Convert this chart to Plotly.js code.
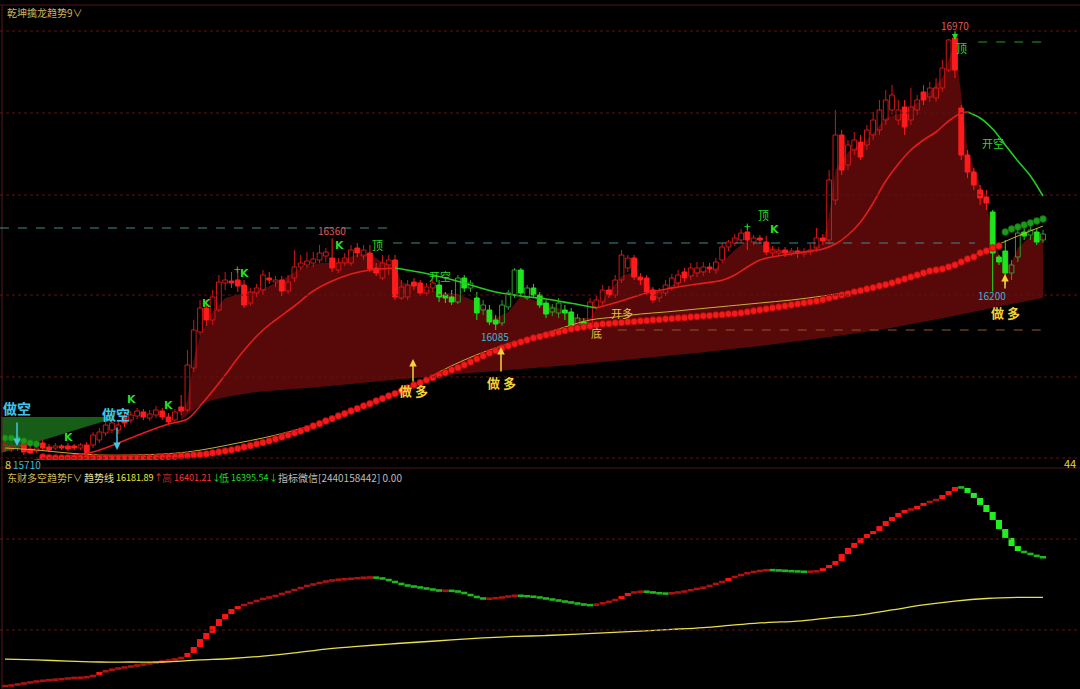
<!DOCTYPE html>
<html><head><meta charset="utf-8">
<script src="https://cdn.plot.ly/plotly-3.0.1.min.js"></script>
<style>html,body{margin:0;padding:0;background:#000;}#chart{width:1080px;height:689px;}</style>
</head><body><div id="chart"></div>
<script>
// ---------- candle data (15-minute bars) ----------
const openP = [15728,15725,15731,15746,15728,15722,15746,15734,15731,15737,15737,15737,15731,15740,15740,15755,15776,15785,15785,15824,15815,15827,15839,15821,15830,15842,15824,15815,15854,15845,15971,16079,16151,16115,16145,16226,16232,16235,16220,16166,16196,16205,16241,16229,16235,16202,16241,16274,16280,16286,16295,16307,16301,16265,16286,16286,16331,16307,16316,16271,16241,16280,16295,16181,16184,16229,16226,16196,16211,16220,16190,16184,16169,16241,16211,16181,16145,16145,16115,16106,16154,16190,16265,16181,16211,16190,16166,16139,16136,16145,16139,16091,16109,16106,16154,16169,16205,16190,16235,16271,16301,16244,16241,16205,16181,16196,16211,16226,16259,16247,16256,16259,16274,16265,16295,16334,16346,16355,16379,16349,16361,16349,16316,16316,16325,16316,16322,16313,16319,16331,16361,16355,16475,16670,16580,16625,16649,16640,16670,16685,16715,16745,16715,16754,16715,16745,16799,16784,16781,16811,16865,16961,16751,16610,16559,16505,16484,16439,16304,16322,16256,16304,16379,16370,16379,16355];
const highP = [15755,15746,15752,15755,15737,15737,15755,15743,15746,15743,15746,15743,15746,15749,15779,15791,15815,15821,15815,15836,15842,15851,15848,15845,15857,15851,15836,15848,15890,16025,16115,16175,16175,16205,16250,16259,16259,16265,16235,16211,16223,16265,16259,16247,16247,16250,16325,16310,16319,16319,16340,16331,16360,16301,16316,16340,16346,16340,16340,16286,16310,16310,16310,16235,16235,16241,16235,16226,16250,16235,16199,16205,16250,16250,16235,16199,16175,16160,16130,16175,16205,16271,16271,16220,16223,16199,16175,16163,16181,16160,16151,16133,16121,16181,16187,16220,16217,16250,16325,16310,16310,16256,16250,16214,16211,16235,16253,16265,16271,16286,16289,16289,16286,16301,16346,16355,16373,16388,16400,16370,16370,16367,16337,16334,16334,16331,16334,16331,16343,16391,16373,16565,16745,16685,16655,16679,16670,16700,16739,16775,16805,16820,16775,16775,16811,16790,16820,16829,16841,16895,16958,16970,16760,16625,16571,16520,16505,16445,16310,16355,16295,16394,16391,16397,16391,16385];
const lowP = [15719,15719,15722,15710,15713,15716,15725,15719,15725,15725,15722,15725,15725,15713,15731,15746,15767,15776,15773,15794,15806,15818,15815,15812,15821,15815,15800,15806,15830,15839,15959,16070,16097,16100,16139,16205,16211,16199,16151,16157,16184,16190,16223,16214,16187,16193,16229,16265,16271,16274,16286,16289,16259,16256,16277,16277,16304,16295,16259,16247,16235,16250,16175,16175,16175,16205,16187,16187,16199,16169,16166,16160,16163,16199,16199,16115,16130,16100,16085,16097,16145,16181,16187,16175,16181,16151,16121,16127,16121,16115,16088,16088,16088,16097,16145,16160,16181,16181,16226,16259,16235,16220,16190,16166,16169,16187,16202,16217,16229,16235,16244,16247,16256,16253,16286,16322,16337,16346,16325,16340,16343,16310,16307,16307,16304,16307,16301,16304,16310,16319,16340,16340,16460,16550,16565,16610,16595,16625,16655,16670,16700,16730,16700,16670,16700,16730,16760,16769,16769,16799,16859,16841,16595,16541,16505,16460,16445,16200,16280,16220,16235,16289,16355,16355,16340,16346];
const closeP = [15740,15737,15740,15719,15716,15731,15731,15725,15737,15731,15728,15731,15740,15716,15770,15779,15800,15806,15800,15806,15830,15842,15824,15833,15845,15824,15809,15839,15842,15980,16085,16151,16115,16184,16229,16235,16226,16217,16160,16199,16211,16250,16235,16235,16202,16229,16274,16286,16292,16298,16316,16319,16271,16286,16301,16325,16316,16325,16268,16256,16286,16295,16184,16214,16220,16217,16196,16214,16226,16184,16181,16169,16241,16211,16226,16136,16160,16109,16103,16160,16196,16265,16196,16211,16190,16160,16133,16151,16166,16136,16091,16121,16094,16169,16175,16205,16190,16235,16310,16301,16244,16235,16199,16175,16199,16220,16241,16250,16241,16271,16271,16274,16268,16289,16334,16349,16361,16376,16355,16361,16355,16319,16325,16322,16316,16322,16316,16319,16325,16361,16352,16535,16670,16565,16640,16655,16604,16685,16715,16745,16775,16790,16745,16694,16754,16775,16775,16811,16811,16871,16955,16865,16610,16559,16520,16481,16466,16316,16289,16256,16280,16376,16367,16385,16349,16373];
// index ranges where the indicator paints the bars green
const greenZones = [[69,92],[157,165]];

// ---------- main-panel indicator lines ----------
const maIdx = [1,5,10,14,18,22,26,29,31,33,35,37,39,41,43,46,49,52,55,58,62,66,70,74,78,82,86,90,94,98,102,106,110,114,116,118,120,122,126,130,132,134,136,138,140,142,144,146,148,150,152,153,155,157,159,161,163,165];
const maVal = [15671,15695,15707,15719,15746,15776,15803,15818,15857,15902,15950,16001,16046,16085,16115,16157,16202,16232,16253,16265,16271,16258,16241,16220,16199,16187,16178,16165,16151,16172,16196,16211,16223,16234,16250,16274,16295,16304,16316,16328,16343,16370,16409,16466,16532,16583,16625,16655,16679,16712,16736,16739,16721,16688,16640,16592,16547,16487];
const maGreenRanges = [[62,94],[153,165]];
const yellowIdx = [0,5,10,15,20,25,29,33,37,41,45,49,53,57,61,65,69,73,77,81,85,89,93,97,101,105,110,115,120,125,130,135,140,145,149,153,157,161,165];
const yellowVal = [15731,15725,15716,15710,15710,15713,15719,15731,15746,15761,15779,15800,15827,15857,15890,15917,15959,15995,16025,16049,16070,16094,16115,16124,16133,16139,16148,16157,16166,16175,16187,16202,16220,16244,16271,16298,16334,16367,16397];
const sarVal = [15761,15761,15758,15752,15746,15743,
15704,15702,15701,15701,15701,15701,15701,15701,15701,15701,
15701,15701,15701,15701,15701,15701,15701,15701,15702,15704,
15704,15705,15707,15708,15710,15711,15713,15716,15719,15722,
15725,15729,15734,15738,15743,15747,15752,15758,15764,15770,
15776,15782,15789,15797,15804,15812,15819,15827,15834,15842,
15849,15857,15864,15872,15879,15887,15894,15902,15911,15920,
15927,15935,15942,15950,15957,15965,15972,15980,15989,15998,
16007,16016,16023,16031,16037,16043,16049,16055,16061,16065,
16070,16074,16079,16083,16088,16091,16094,16097,16100,16103,
16104,16106,16107,16109,16110,16112,16113,16115,16116,16118,
16119,16121,16122,16124,16125,16127,16128,16130,16131,16133,
16134,16136,16139,16142,16145,16148,16151,16154,16157,16160,
16163,16166,16169,16172,16176,16181,16185,16190,16194,16199,
16203,16208,16212,16217,16221,16226,16232,16238,16244,16250,
16256,16262,16265,16268,16274,16280,16289,16298,16304,16316,
16322,16331,16337,16379,16388,16394,16400,16406,16412,16418];
const sarGreenRanges = [[0,5],[159,165]];
// shaded band
const shadeTopIdx = [28,29,30,31,33,35,38,41,44,47,50,53,56,58,60,62,63,66,69,72,75,78,80,82,85,88,91,93,95,98,100,102,104,107,110,113,116,118,121,124,128,130,131,132,134,137,140,143,146,149,151,152,153,155,156,157,159,160,161,163,165];
const shadeTop = [15830,15875,15995,16070,16139,16181,16196,16208,16235,16271,16286,16289,16313,16313,16289,16277,16229,16211,16199,16193,16169,16121,16139,16187,16169,16151,16121,16121,16175,16247,16259,16220,16199,16229,16259,16271,16325,16355,16337,16322,16325,16349,16430,16565,16619,16655,16721,16739,16781,16841,16949,16790,16625,16520,16481,16355,16271,16289,16331,16367,16367];
const shadeBotIdx = [28,29,30,31,33,36,40,50,60,70,80,90,100,110,120,130,140,150,160,165];
const shadeBot = [15815,15830,15845,15860,15875,15887,15899,15914,15932,15950,15965,15980,15998,16016,16037,16061,16088,16124,16163,16181];
const cloudIdx = [0,18];
const cloudTop = [15824,15824];
const cloudBot = [15716,15821];
// reference price levels
const levels = {hiA:16391, hiB:16346, top:16949, low:16085};

// ---------- lower panel: 东财多空趋势F ----------
const trendStep = [15703,15709,15714,15720,15725,15730,15733,15736,15739,15741,
15747,15747,15749,15752,15763,15779,15787,15795,15801,15806,
15811,15817,15822,15828,15833,15838,15844,15849,15860,15882,
15914,15957,15990,16027,16065,16092,16119,16135,16146,16157,
16168,16179,16184,16195,16206,16216,16227,16238,16249,16254,
16265,16270,16276,16279,16281,16284,16287,16289,16290,16287,
16281,16270,16260,16249,16243,16238,16233,16227,16222,16216,
16219,16216,16211,16200,16189,16179,16173,16176,16179,16184,
16189,16192,16189,16187,16184,16179,16173,16168,16162,16157,
16152,16146,16141,16139,16146,16154,16162,16173,16189,16206,
16211,16214,16211,16206,16203,16202,16206,16211,16216,16225,
16230,16238,16249,16260,16270,16287,16297,16308,16316,16322,
16327,16330,16328,16327,16324,16323,16321,16320,16321,16324,
16340,16357,16378,16416,16449,16476,16503,16524,16540,16567,
16594,16616,16638,16654,16659,16676,16692,16702,16713,16735,
16756,16778,16773,16746,16719,16681,16643,16600,16551,16503,
16459,16432,16422,16411,16401,16396];
const trendLineIdx = [0,5,10,15,20,25,28,31,36,41,46,51,56,61,66,71,76,81,86,91,96,101,106,111,116,121,126,131,136,141,146,151,156,161,165];
const trendLineVal = [15849,15844,15838,15833,15833,15833,15838,15844,15852,15865,15882,15903,15917,15930,15941,15952,15963,15971,15976,15984,15992,16000,16009,16019,16033,16046,16054,16071,16087,16114,16141,16162,16176,16182,16182];

// ---------- build ----------
const W = 1080, Hh = 689;
const N = closeP.length;
const inR = (i, rs) => rs.some(r => i >= r[0] && i <= r[1]);
const MINB = 3;
const groups = {hr:[], hg:[], fr:[], fg:[]};
for (let i = 0; i < N; i++) {
  const up = closeP[i] >= openP[i];
  const g = inR(i, greenZones);
  groups[(up ? 'h' : 'f') + (g ? 'g' : 'r')].push(i);
}
const gStyle = {
  hr:{fill:'rgba(0,0,0,0)', line:'#d01616'},
  hg:{fill:'rgba(0,0,0,0)', line:'#2f9a2f'},
  fr:{fill:'#ff1c1c', line:'#ff1c1c'},
  fg:{fill:'#1ee41e', line:'#1ee41e'}
};
const traces = [];
const none = {width:0, color:'rgba(0,0,0,0)'};
traces.push({type:'scatter', mode:'lines', x:cloudIdx.map(v=>v-0.6), y:cloudBot, line:none, hoverinfo:'skip', xaxis:'x', yaxis:'y'});
traces.push({type:'scatter', mode:'lines', x:cloudIdx.map(v=>v-0.6), y:cloudTop, fill:'tonexty', fillcolor:'#175c17', line:none, hoverinfo:'skip', xaxis:'x', yaxis:'y'});
traces.push({type:'scatter', mode:'lines', x:shadeBotIdx, y:shadeBot, line:none, hoverinfo:'skip', xaxis:'x', yaxis:'y'});
traces.push({type:'scatter', mode:'lines', x:shadeTopIdx, y:shadeTop, fill:'tonexty', fillcolor:'#570909', line:none, hoverinfo:'skip', xaxis:'x', yaxis:'y'});

for (const k of ['hr','hg','fr','fg']) {
  const ids = groups[k];
  const base = [], len = [], wx = [], wy = [];
  for (const i of ids) {
    let lo = Math.min(openP[i], closeP[i]), hi = Math.max(openP[i], closeP[i]);
    if (hi - lo < MINB) { const m = (hi + lo) / 2; lo = m - MINB/2; hi = m + MINB/2; }
    base.push(lo); len.push(hi - lo);
    if (k[0] === 'h') { wx.push(i, i, null, i, i, null); wy.push(lowP[i], lo, null, hi, highP[i], null); }
    else { wx.push(i, i, null); wy.push(lowP[i], highP[i], null); }
  }
  traces.push({type:'bar', x:ids, y:len, base:base, width:0.76, marker:{color:gStyle[k].fill, line:{color:gStyle[k].line, width:1}}, hoverinfo:'skip', xaxis:'x', yaxis:'y3'});
  traces.push({type:'scatter', mode:'lines', x:wx, y:wy, line:{color:gStyle[k].line, width:1}, hoverinfo:'skip', connectgaps:false, xaxis:'x', yaxis:'y3'});
}
traces.push({type:'scatter', mode:'lines', x:yellowIdx, y:yellowVal, line:{color:'#c9ae3c', width:1, shape:'spline'}, hoverinfo:'skip', xaxis:'x', yaxis:'y3'});
(function(){
  const segs = []; let cur = null;
  for (let j = 0; j < maIdx.length; j++) {
    const g = maGreenRanges.some(r => maIdx[j] > r[0] && maIdx[j] <= r[1]);
    const col = g ? '#22cc22' : '#e41c1c';
    if (!cur || cur.col !== col) {
      const prev = cur ? {x: cur.x[cur.x.length-1], y: cur.y[cur.y.length-1]} : null;
      cur = {col, x: prev ? [prev.x] : [], y: prev ? [prev.y] : []};
      segs.push(cur);
    }
    cur.x.push(maIdx[j]); cur.y.push(maVal[j]);
  }
  for (const s of segs) traces.push({type:'scatter', mode:'lines', x:s.x, y:s.y, line:{color:s.col, width:1.6, shape:'spline'}, hoverinfo:'skip', xaxis:'x', yaxis:'y3'});
})();
(function(){
  const rx=[], ry=[], gx=[], gy=[];
  for (let i = 0; i < sarVal.length; i++) {
    if (inR(i, sarGreenRanges)) { gx.push(i); gy.push(sarVal[i]); } else { rx.push(i); ry.push(sarVal[i]); }
  }
  traces.push({type:'scatter', mode:'markers', x:rx, y:ry, marker:{color:'#f21a1a', size:6.8, line:{color:'#9a0000', width:0.6}}, hoverinfo:'skip', xaxis:'x', yaxis:'y3'});
  traces.push({type:'scatter', mode:'markers', x:gx, y:gy, marker:{color:'#1c9a1c', size:6.8, line:{color:'#0c5a0c', width:0.6}}, hoverinfo:'skip', xaxis:'x', yaxis:'y3'});
})();
(function(){
  const xs=[], b=[], l=[], c=[];
  const MIN2 = 14;
  for (let i = 0; i < trendStep.length; i++) {
    const prev = i ? trendStep[i-1] : trendStep[i];
    let lo = Math.min(prev, trendStep[i]), hi = Math.max(prev, trendStep[i]);
    if (hi - lo < MIN2) { const m = (hi+lo)/2; lo = m - MIN2/2; hi = m + MIN2/2; }
    const up = trendStep[i] >= prev;
    const big = Math.abs(trendStep[i] - prev) > 12;
    xs.push(i); b.push(lo); l.push(hi - lo);
    c.push(up ? (big ? '#ff1414' : '#b01212') : (big ? '#22ee22' : '#1fb81f'));
  }
  traces.push({type:'bar', x:xs, y:l, base:b, width:0.97, marker:{color:c, line:{width:0}}, hoverinfo:'skip', xaxis:'x', yaxis:'y2'});
})();
traces.push({type:'scatter', mode:'lines', x:trendLineIdx, y:trendLineVal, line:{color:'#e6e04a', width:1.3, shape:'spline'}, hoverinfo:'skip', xaxis:'x', yaxis:'y2'});

// ---------- shapes ----------
const py = p => 1 - p / Hh;
const px = p => p / W;
const grid = '#5c1414';
const shapes = [];
[31,113,195,295,377,458].forEach(r => shapes.push({type:'line', xref:'paper', yref:'paper', x0:0, x1:1, y0:py(r), y1:py(r), line:{color:grid, width:1, dash:'dot'}, layer:'above'}));
[539,630].forEach(r => shapes.push({type:'line', xref:'paper', yref:'paper', x0:0, x1:1, y0:py(r), y1:py(r), line:{color:grid, width:1, dash:'dot'}, layer:'above'}));
shapes.push({type:'line', xref:'paper', yref:'paper', x0:0, x1:1, y0:py(5), y1:py(5), line:{color:'#501414', width:1}});
shapes.push({type:'line', xref:'paper', yref:'paper', x0:0, x1:1, y0:py(468), y1:py(468), line:{color:'#501414', width:1}});
shapes.push({type:'line', xref:'paper', yref:'paper', x0:px(2), x1:px(2), y0:0, y1:py(5), line:{color:'#5a1818', width:1}});
shapes.push({type:'line', xref:'x', yref:'y', x0:-0.8, x1:61.2, y0:levels.hiA, y1:levels.hiA, line:{color:'#3c8c8c', width:1, dash:'dash'}, layer:'above'});
shapes.push({type:'line', xref:'x', yref:'y', x0:61.7, x1:154.2, y0:levels.hiB, y1:levels.hiB, line:{color:'#3c8c8c', width:1, dash:'dash'}, layer:'above'});
shapes.push({type:'line', xref:'x', yref:'y', x0:154.7, x1:165.2, y0:levels.top, y1:levels.top, line:{color:'#22a022', width:1, dash:'dash'}, layer:'above'});
shapes.push({type:'line', xref:'x', yref:'y', x0:97.4, x1:165.3, y0:levels.low, y1:levels.low, line:{color:'#8c5a28', width:1, dash:'dash'}, layer:'above'});

// ---------- annotations ----------
const CJK = '"Noto Sans CJK SC", "Noto Sans", sans-serif';
const ann = [];
function T(x, y, text, color, size, extra) {
  ann.push(Object.assign({xref:'paper', yref:'paper', x:px(x), y:py(y), text, showarrow:false, xanchor:'center', yanchor:'middle', font:{family:CJK, size, color}}, extra||{}));
}
function A(x, yHead, yTail, color, w) {
  ann.push({xref:'paper', yref:'paper', x:px(x), y:py(yHead), ax:0, ay:yTail - yHead, text:'', showarrow:true, arrowhead:2, arrowsize:1, arrowwidth:w||1.5, arrowcolor:color, standoff:0, startstandoff:0});
}
const L = {xanchor:'left'};
T(5, 12, '乾坤擒龙趋势9∨', '#cdb85a', 10, L);
const bold = (c, s) => ({font:{family:CJK, size:s, color:c, weight:'bold'}});
T(17, 408, '做空', '#3fc6e6', 14, bold('#3fc6e6', 14));
A(17, 446, 421, '#3fc6e6');
T(116, 414, '做空', '#3fc6e6', 14, bold('#3fc6e6', 14));
A(117, 450, 426, '#3fc6e6');
T(413, 391, '做 多', '#f2d23a', 13, bold('#f2d23a', 13));
A(413, 359, 383, '#f2d23a');
T(501, 382, '做 多', '#f2d23a', 13, bold('#f2d23a', 13));
A(501, 347, 373, '#f2d23a');
T(1005, 312, '做 多', '#f2d23a', 13, bold('#f2d23a', 13));
A(1005, 274, 290, '#f2d23a');
T(955, 25, '16970', '#e05858', 10);
T(332, 230, '16360', '#e05858', 10);
T(495, 337, '16085', '#3fb4d6', 10);
T(992, 295, '16200', '#3fb4d6', 10);
T(3, 464, '8', '#e6d84a', 11, L);
T(11, 465, '15710', '#3fb4d6', 10, L);
T(1078, 463, '44', '#e6d84a', 11, {xanchor:'right'});
const G = '#26dd26';
[[68,437],[131,399],[168,405],[206,303],[244,273],[339,245],[774,229]].forEach(p => T(p[0], p[1], 'K', G, 11, {font:{family:'"DejaVu Sans", sans-serif', size:11, color:G, weight:'bold'}}));
T(237, 268, '+', G, 12);
T(747, 225, '+', G, 12);
T(377, 245, '顶', G, 11);
T(763, 215, '顶', G, 11);
T(961, 48, '顶', G, 11);
A(955, 40, 30, G, 1.2);
T(440, 276, '开空', G, 11);
T(993, 143, '开空', G, 11);
T(622, 313, '开多', '#e6c43a', 11);
T(596, 333, '底', '#e6c43a', 11);
// lower panel header (pieces placed along the line)
const HY = 477;
T(5, HY, '东财多空趋势F∨', '#cdb85a', 10, L);
T(82, HY, '趋势线', '#e2e0a8', 10, L);
T(114, HY, '16181.89', '#f0ec3c', 9, L);
T(152, HY, '↑', '#ff3030', 9, L);
T(160, HY, '高', '#b82020', 10, L);
T(172, HY, '16401.21', '#ff3030', 9, L);
T(210, HY, '↓', '#22dd22', 9, L);
T(217, HY, '低', '#22dd22', 10, L);
T(229, HY, '16395.54', '#22dd22', 9, L);
T(267, HY, '↓', '#22dd22', 9, L);
T(276, HY, '指标微信[2440158442] 0.00', '#bdbdbd', 10, L);

const layout = {
  width:W, height:Hh, margin:{l:0,r:0,t:0,b:0},
  paper_bgcolor:'#000', plot_bgcolor:'#000', showlegend:false, barmode:'overlay',
  xaxis:{range:[-0.795,170.88], visible:false, fixedrange:true},
  yaxis:{domain:[1-460/Hh, 1-5/Hh], range:[15695,17060], visible:false, fixedrange:true},
  yaxis3:{overlaying:'y', range:[15695,17060], visible:false, fixedrange:true},
  yaxis2:{domain:[0, 1-470/Hh], range:[15687.2,16869.8], visible:false, anchor:'x', fixedrange:true},
  shapes, annotations:ann
};
Plotly.newPlot('chart', traces, layout, {displayModeBar:false, staticPlot:true});
</script></body></html>
